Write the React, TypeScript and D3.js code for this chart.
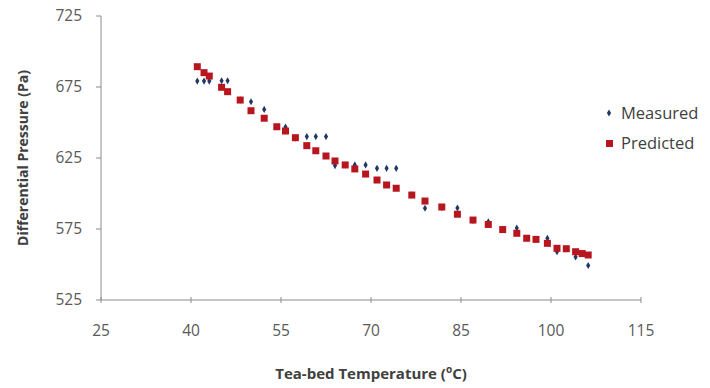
import React from "react";
import * as d3 from "d3";

// tea-bed temperature (°C) for each observation
const temps = [
  41.05, 42.17, 43.05, 45.1, 46.1, 48.2, 50.0, 52.2, 54.3, 55.75, 57.4, 59.3,
  60.8, 62.5, 64.0, 65.7, 67.3, 69.1, 71.0, 72.6, 74.2, 76.8, 79.0, 81.8, 84.4,
  87.0, 89.55, 91.95, 94.3, 95.95, 97.5, 99.4, 101.0, 102.55, 104.1, 105.2, 106.2,
];
const measured = [
  679.2, 679.2, 679.2, 679.4, 679.4, 666, 664.6, 659.2, 647, 646.8, 639, 640.1,
  640.1, 640.1, 619.7, 620, 620.1, 620.1, 617.7, 617.7, 617.7, 599, 589.6, 590,
  589.8, 581, 580.1, 575, 575.7, 568.5, 567.7, 568.5, 559, 561, 555.3, 557.7,
  549.3,
];
const predicted = [
  689.3, 685.1, 682.7, 674.8, 671.7, 665.8, 658.3, 653, 647, 644, 639.3, 633.7,
  630.1, 626.4, 622.9, 620.1, 617.3, 613.7, 609.5, 606, 603.7, 598.9, 594.7,
  590.5, 585.4, 581.3, 578.2, 574.6, 572, 568.5, 567.7, 564.9, 561.4, 561.1, 559,
  557.7, 556.7,
];
const xTicks = [25, 40, 55, 70, 85, 100, 115];
const yTicks = [525, 575, 625, 675, 725];

const MEAS_COLOR = "#1f3864";
const PRED_COLOR = "#b8161f";
const FONT = "'Open Sans', 'Noto Sans', sans-serif";

export default function App() {
  const width = 710;
  const height = 388;
  const left = 101;
  const right = 641;
  const top = 16;
  const bottom = 300;

  const x = d3.scaleLinear().domain([25, 115]).range([left, right]);
  const y = d3.scaleLinear().domain([525, 725]).range([bottom, top]);
  const diamond = d3.symbol().type(d3.symbolDiamond).size(15)();

  return (
    <div style={{ position: "absolute", left: 0, top: 0 }}>
      <svg width={width} height={height} style={{ display: "block", background: "#fff" }}>
        {/* axes */}
        <line x1={left} x2={left} y1={top} y2={bottom} stroke="#8c8c8c" strokeWidth={1} />
        <line x1={left} x2={right} y1={bottom} y2={bottom} stroke="#8c8c8c" strokeWidth={1} />
        {yTicks.map((t) => (
          <g key={"y" + t}>
            <line x1={left - 5} x2={left} y1={y(t)} y2={y(t)} stroke="#8c8c8c" />
            <text
              x={82}
              y={y(t)}
              dy="0.35em"
              textAnchor="end"
              fontFamily={FONT}
              fontSize={15.5}
              fill="#595959"
            >
              {t}
            </text>
          </g>
        ))}
        {xTicks.map((t) => (
          <g key={"x" + t}>
            <line x1={x(t)} x2={x(t)} y1={bottom - 3} y2={bottom + 3} stroke="#8c8c8c" />
            <text
              x={x(t)}
              y={331}
              dy="0.35em"
              textAnchor="middle"
              fontFamily={FONT}
              fontSize={15.5}
              fill="#595959"
            >
              {t}
            </text>
          </g>
        ))}

        {/* axis titles */}
        <text
          transform={`translate(23,${(top + bottom) / 2}) rotate(-90)`}
          textAnchor="middle"
          dy="0.35em"
          fontFamily={FONT}
          fontWeight="bold"
          fontSize={14}
          fill="#404040"
        >
          Differential Pressure (Pa)
        </text>
        <text
          x={(left + right) / 2}
          y={374}
          textAnchor="middle"
          dy="0.35em"
          fontFamily={FONT}
          fontWeight="bold"
          fontSize={15}
          fill="#404040"
        >
          Tea-bed Temperature (
          <tspan dy="-6" fontSize={10}>o</tspan>
          <tspan dy="6">C)</tspan>
        </text>

        {/* series */}
        {temps.map((t, i) => (
          <path
            key={"m" + i}
            d={diamond}
            transform={`translate(${x(t)},${y(measured[i])})`}
            fill={MEAS_COLOR}
          />
        ))}
        {temps.map((t, i) => (
          <rect
            key={"p" + i}
            x={x(t) - 3.5}
            y={y(predicted[i]) - 3.5}
            width={7}
            height={7}
            fill={PRED_COLOR}
          />
        ))}

        {/* legend */}
        <path d={diamond} transform="translate(609,113)" fill={MEAS_COLOR} />
        <text x={621} y={113} dy="0.35em" fontFamily={FONT} fontSize={16.5} fill="#404040">
          Measured
        </text>
        <rect x={606} y={140} width={7} height={7} fill={PRED_COLOR} />
        <text x={621} y={143.5} dy="0.35em" fontFamily={FONT} fontSize={16.5} fill="#404040">
          Predicted
        </text>
      </svg>
    </div>
  );
}
